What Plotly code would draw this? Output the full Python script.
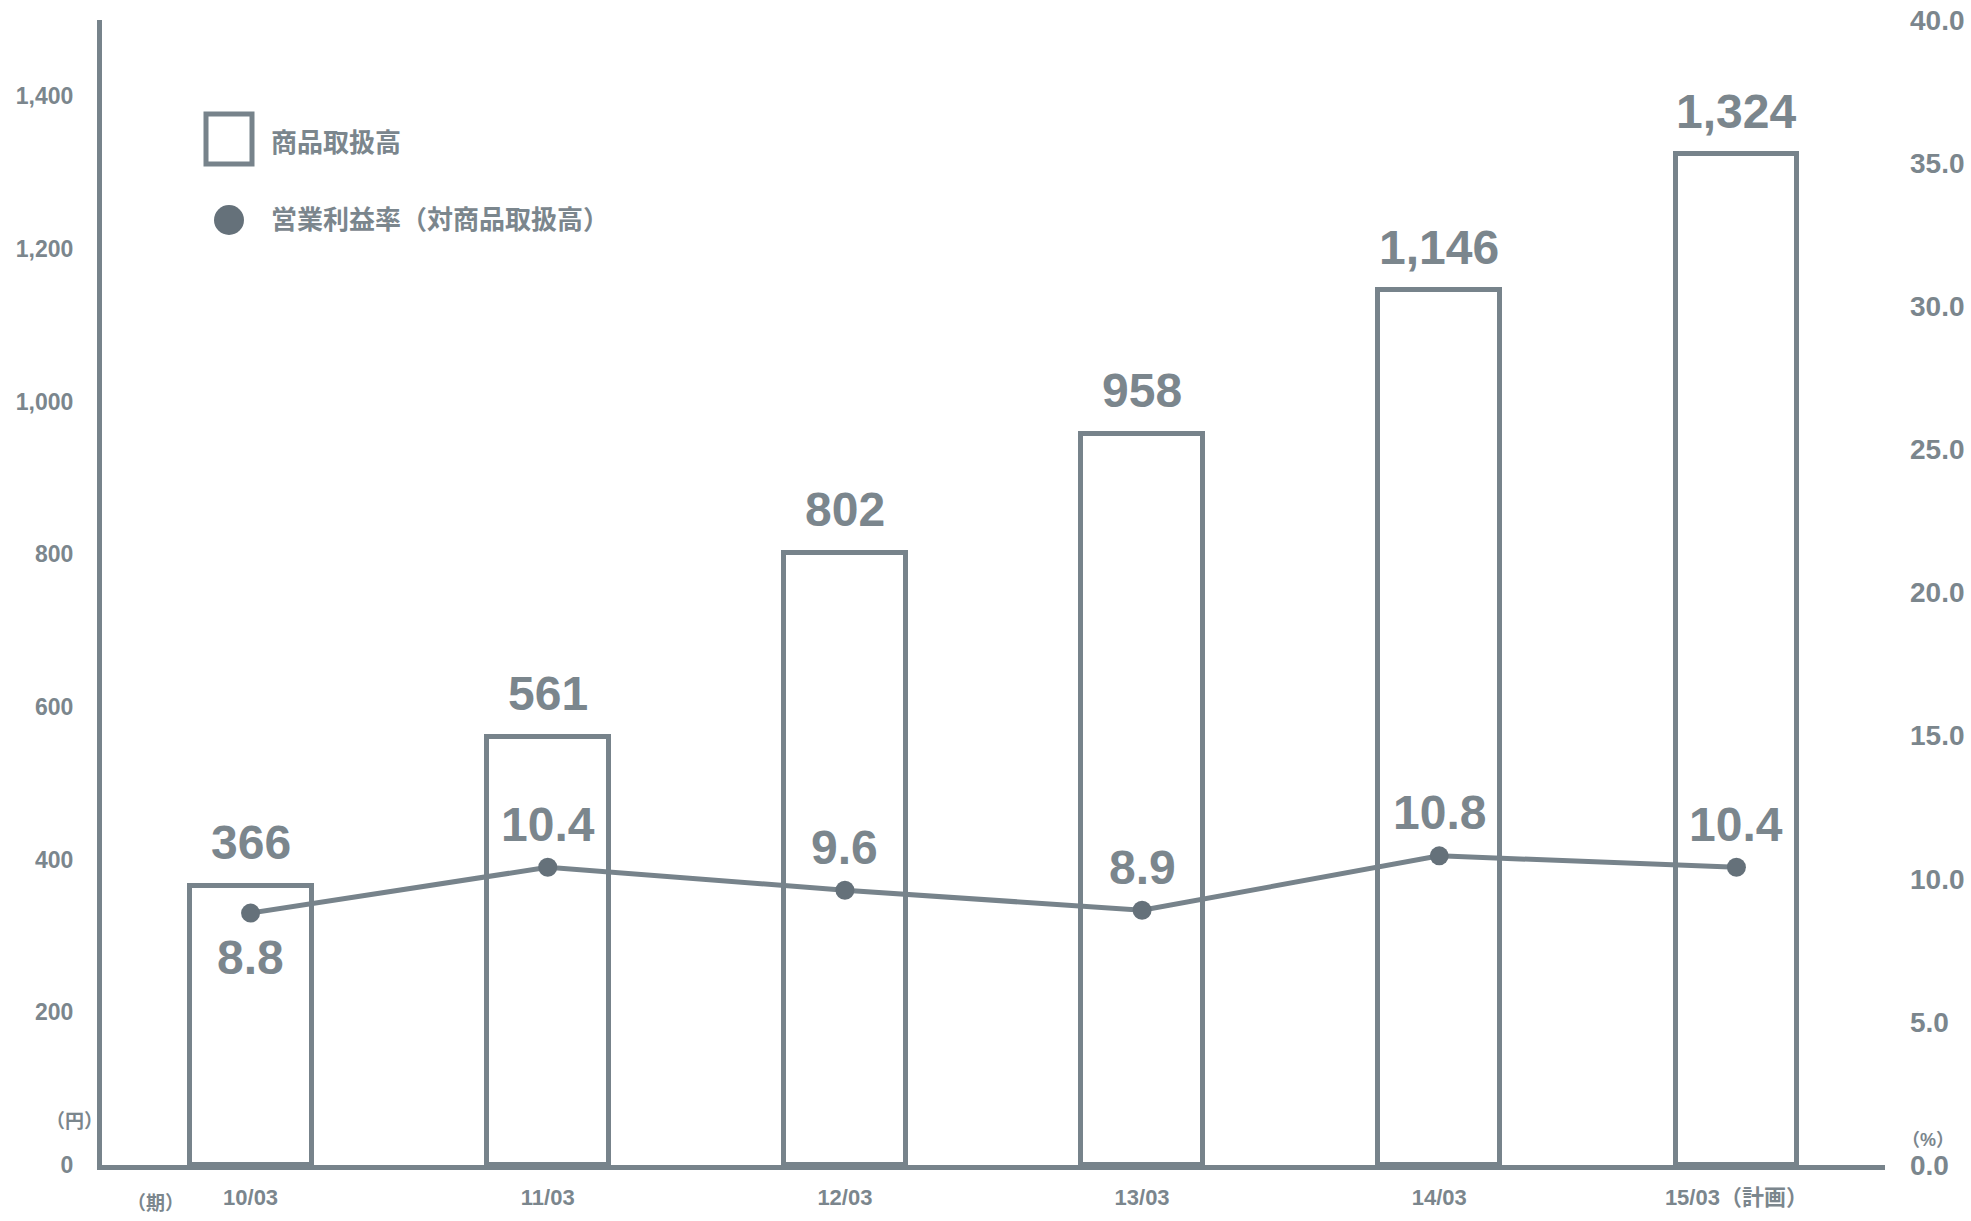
import plotly.graph_objects as go

# Fiscal periods and values
periods = ["10/03", "11/03", "12/03", "13/03", "14/03", "15/03（計画）"]
handling_volume = [366, 561, 802, 958, 1146, 1324]          # 商品取扱高 (円)
operating_margin = [8.8, 10.4, 9.6, 8.9, 10.8, 10.4]        # 営業利益率 (%)
left_ticks = [0, 200, 400, 600, 800, 1000, 1200, 1400]
right_ticks = [0, 5, 10, 15, 20, 25, 30, 35, 40]

BAR_GRAY = "#77838b"
DOT_GRAY = "#65717a"
TEXT_GRAY = "#7b868d"
FONT = "Liberation Sans, Noto Sans CJK JP, sans-serif"

W, H = 1971, 1221
L, R, T, B = 102, 86, 20, 56
PW, PH = W - L - R, H - T - B


def px_x(x):
    return (x - L) / PW


def px_y(y):
    return (H - B - y) / PH


fig = go.Figure()

fig.add_trace(go.Bar(
    x=periods, y=handling_volume, width=0.41,
    marker=dict(color="white", line=dict(color=BAR_GRAY, width=5)),
    showlegend=False, hoverinfo="skip",
))

fig.add_trace(go.Scatter(
    x=periods, y=operating_margin, yaxis="y2", mode="lines+markers",
    line=dict(color=BAR_GRAY, width=5),
    marker=dict(color=DOT_GRAY, size=19),
    showlegend=False, hoverinfo="skip",
))

annotations = []
# value labels above each bar
for p, v in zip(periods, handling_volume):
    annotations.append(dict(
        x=p, y=v, xref="x", yref="y", text=f"{v:,}", showarrow=False,
        yanchor="middle", yshift=43,
        font=dict(family=FONT, size=48, color=TEXT_GRAY, weight="bold"),
    ))
# margin labels (first one sits below its point)
for i, (p, v) in enumerate(zip(periods, operating_margin)):
    annotations.append(dict(
        x=p, y=v, xref="x", yref="y2", text=f"{v:.1f}", showarrow=False,
        yanchor="middle", yshift=-44 if i == 0 else 43,
        font=dict(family=FONT, size=48, color=TEXT_GRAY, weight="bold"),
    ))

# legend entries
legend_font = dict(family=FONT, size=26, color=TEXT_GRAY, weight="bold")
annotations += [
    dict(x=px_x(269), y=px_y(143), xref="paper", yref="paper", text="商品取扱高",
         showarrow=False, xanchor="left", yanchor="middle", font=legend_font),
    dict(x=px_x(269), y=px_y(220), xref="paper", yref="paper",
         text="営業利益率（対商品取扱高）",
         showarrow=False, xanchor="left", yanchor="middle", font=legend_font),
]

# unit labels
unit_font = dict(family=FONT, size=19, color=TEXT_GRAY, weight="bold")
annotations += [
    dict(x=px_x(74), y=px_y(1121), xref="paper", yref="paper", text="（円）",
         showarrow=False, xanchor="center", yanchor="middle", font=unit_font),
    dict(x=px_x(155), y=px_y(1203), xref="paper", yref="paper", text="（期）",
         showarrow=False, xanchor="center", yanchor="middle", font=unit_font),
    dict(x=px_x(1928), y=px_y(1140), xref="paper", yref="paper", text="（%）",
         showarrow=False, xanchor="center", yanchor="middle",
         font=dict(family=FONT, size=18, color=TEXT_GRAY, weight="bold")),
]

shapes = [
    dict(type="rect", xref="paper", yref="paper",
         x0=px_x(206), x1=px_x(252), y0=px_y(114), y1=px_y(164),
         line=dict(color=BAR_GRAY, width=5), fillcolor="white"),
    dict(type="circle", xref="paper", yref="paper",
         x0=px_x(214), x1=px_x(244), y0=px_y(205), y1=px_y(235),
         line=dict(color=DOT_GRAY, width=0), fillcolor=DOT_GRAY),
]

fig.update_layout(
    width=W, height=H,
    margin=dict(l=L, r=R, t=T, b=B, pad=0, autoexpand=False),
    paper_bgcolor="white", plot_bgcolor="white",
    font=dict(family=FONT, color=TEXT_GRAY),
    bargap=0,
    xaxis=dict(
        range=[-0.5, 5.5], showgrid=False, zeroline=False, automargin=False,
        showline=True, linecolor=BAR_GRAY, linewidth=5,
        ticks="", ticklabelstandoff=9,
        tickfont=dict(family=FONT, size=22, color=TEXT_GRAY, weight="bold"),
    ),
    yaxis=dict(
        range=[0, 1500], tickvals=left_ticks,
        ticktext=[f"{v:,}" for v in left_ticks],
        showgrid=False, zeroline=False, automargin=False,
        showline=True, linecolor=BAR_GRAY, linewidth=5,
        ticks="", ticklabelstandoff=19,
        tickfont=dict(family=FONT, size=23, color=TEXT_GRAY, weight="bold"),
    ),
    yaxis2=dict(
        range=[0, 40], tickvals=right_ticks,
        ticktext=[f"{v:.1f}" for v in right_ticks],
        overlaying="y", side="right", showgrid=False, zeroline=False,
        automargin=False,
        showline=False, ticks="", ticklabelstandoff=24,
        tickfont=dict(family=FONT, size=28, color=TEXT_GRAY, weight="bold"),
    ),
    annotations=annotations,
    shapes=shapes,
)

fig.write_html("out.html")
